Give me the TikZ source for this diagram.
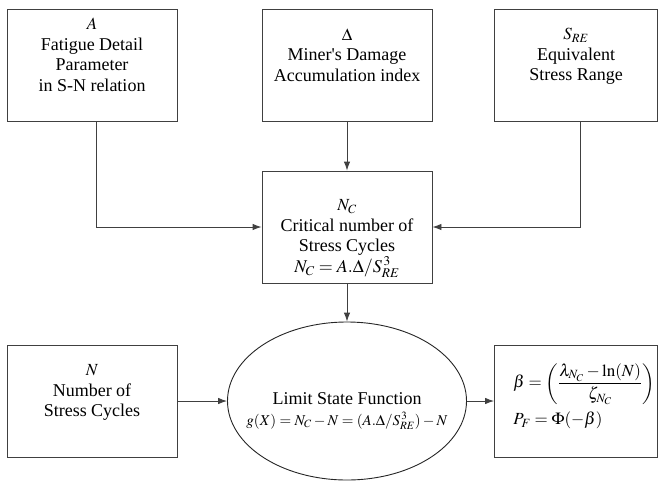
\documentclass[tikz,border=0pt]{standalone}
\usepackage{amsmath}
\usepackage{mathptmx}
\usepackage[no-math]{fontspec}
\setmainfont{Liberation Serif}
\newfontfamily\diagfont{Liberation Serif}
\usetikzlibrary{shapes.geometric,arrows.meta}

\newcommand{\varname}[1]{{\fontsize{17}{19}\selectfont$#1$}}

\tikzset{
  box/.style={draw=black!75, line width=0.9pt, minimum width=170pt, minimum height=112pt,
    inner sep=0pt, align=center, font=\diagfont\fontsize{18}{20.5}\selectfont},
  limit/.style={ellipse, draw=black!85, line width=0.9pt, minimum width=239pt,
    minimum height=158pt, inner sep=0pt, inner xsep=-25pt, align=center,
    font=\diagfont\fontsize{18}{20.5}\selectfont},
  link/.style={->, draw=black!75, line width=0.9pt}
}

\begin{document}
\begin{tikzpicture}[x=1pt,y=-1pt,>={Latex[length=9pt,width=6.5pt]}]
    \useasboundingbox (0,0) rectangle (661,483);
    % inputs
    \node (A) [box] at (92,65) {\varname{A}\\Fatigue Detail\\Parameter\\in S-N relation\\\mbox{}};
    \node (D) [box] at (347,65) {\varname{\Delta}\\Miner's Damage\\Accumulation index\\\mbox{}};
    \node (S) [box, minimum width=163pt] at (576,65) {\varname{S_{RE}}\\Equivalent\\Stress Range\\\mbox{}};
    \node (NC) [box] at (347,227) {\mbox{}\\[14pt]\varname{N_C}\\Critical number of\\Stress Cycles\\$N_C = A.\Delta / S_{RE}^{\,3}$};
    \node (N) [box] at (92,401) {\varname{N}\\Number of\\Stress Cycles\\\mbox{}};
    % limit state and result
    \node (LSF) [limit] at (347,401) {\mbox{}\\[12pt]Limit State Function\\[0pt]{\fontsize{15}{17}\selectfont$g(X) = N_C - N = (A.\Delta / S_{RE}^{\,3}) - N$}};
    \node (B) [box, minimum width=163pt, align=left, font=\diagfont\fontsize{17}{20}\selectfont] at (576,401)
        {\hspace*{16pt}$\beta = \left(\dfrac{\lambda_{N_C} - \ln(N)}{\zeta_{N_C}}\right)$\\[6pt]\hspace*{16pt}$P_F = \Phi(-\beta)$\\[-6pt]\mbox{}};
    \draw [link] ([xshift=4pt]A.south) |- (NC.west);
    \draw [link] (D) -- (NC);
    \draw [link] ([xshift=4pt]S.south) |- (NC.east);
    \draw [link] (NC) -- (LSF);
    \draw [link] (N) -- (LSF);
    \draw [link] (LSF) -- (B);
\end{tikzpicture}
\end{document}
